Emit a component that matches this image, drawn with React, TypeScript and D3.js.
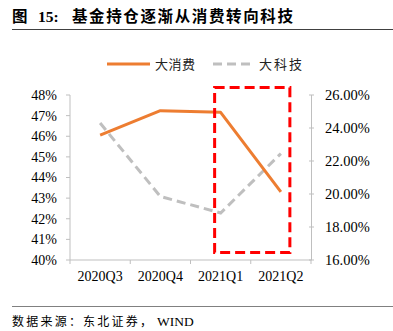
import React from "react";
import * as d3 from "d3";

const categories = ["2020Q3", "2020Q4", "2021Q1", "2021Q2"];
const consumption = [46.05, 47.24, 47.16, 43.3];
const technology = [24.3, 19.85, 18.85, 22.45];
const leftTicks = [40, 41, 42, 43, 44, 45, 46, 47, 48];
const rightTicks = [16, 18, 20, 22, 24, 26];
const titleLabel = "图";
const titleNumber = "15:";
const titleText = "基金持仓逐渐从消费转向科技";
const sourceLabel = "数据来源：东北证券，";
const sourceLatin = "WIND";
const seriesNames = ["大消费", "大科技"];

const W = 393;
const H = 331;
const FONT = "'Liberation Serif', 'Times New Roman', 'Noto Sans CJK SC', serif";
const CJK = "'Noto Sans CJK SC', sans-serif";

export default function App() {
  const x = d3.scaleBand<string>().domain(categories).range([70, 311]);
  const yL = d3.scaleLinear().domain([40, 48]).range([260, 95]);
  const yR = d3.scaleLinear().domain([16, 26]).range([260, 95]);
  const cx = (c: string) => (x(c) as number) + x.bandwidth() / 2;

  const lineL = d3
    .line<number>()
    .x((_, i) => cx(categories[i]))
    .y((d) => yL(d));
  const lineR = d3
    .line<number>()
    .x((_, i) => cx(categories[i]))
    .y((d) => yR(d));

  const axisColor = "#bfbfbf";
  const bounds = [...categories.map((c) => x(c) as number), 311];

  // highlight box around 2021Q1–2021Q2 transition
  const boxX0 = cx(categories[2]) - 6;
  const boxX1 = cx(categories[3]) + 9;
  const boxY0 = yL(48.36);
  const boxY1 = yL(40.36);

  return (
    <svg
      width={W}
      height={H}
      style={{ position: "absolute", left: 0, top: 0, background: "#fff" }}
    >
      <g fontFamily={FONT} fontSize={15.5} fontWeight="bold" fill="#000">
        <text x={12} y={22} fontFamily={CJK}>
          {titleLabel}
        </text>
        <text x={38} y={22}>
          {titleNumber}
        </text>
        <text
          x={72}
          y={22}
          fontFamily={CJK}
          textLength={221}
          lengthAdjust="spacing"
        >
          {titleText}
        </text>
      </g>
      <line x1={12} x2={393} y1={29.5} y2={29.5} stroke="#404040" strokeWidth={1} />

      {/* legend */}
      <line x1={107} x2={150} y1={64} y2={64} stroke="#ED7D31" strokeWidth={3} />
      <text
        x={155}
        y={68.5}
        fontFamily={CJK}
        fontSize={13}
        fill="#222"
        textLength={40}
        lengthAdjust="spacing"
      >
        {seriesNames[0]}
      </text>
      <line
        x1={213}
        x2={251}
        y1={64}
        y2={64}
        stroke="#BFBFBF"
        strokeWidth={3}
        strokeDasharray="9,5"
      />
      <text
        x={259}
        y={68.5}
        fontFamily={CJK}
        fontSize={13}
        fill="#222"
        textLength={43}
        lengthAdjust="spacing"
      >
        {seriesNames[1]}
      </text>

      {/* left axis */}
      <line x1={70} x2={70} y1={95} y2={260} stroke={axisColor} />
      {leftTicks.map((t) => (
        <g key={t}>
          <line x1={66} x2={70} y1={yL(t)} y2={yL(t)} stroke={axisColor} />
          <text
            x={57}
            y={yL(t)}
            dy="0.35em"
            textAnchor="end"
            fontFamily={FONT}
            fontSize={14}
            fill="#000"
          >
            {t}%
          </text>
        </g>
      ))}

      {/* right axis */}
      <line x1={311.5} x2={311.5} y1={95} y2={260} stroke={axisColor} />
      {rightTicks.map((t) => (
        <g key={t}>
          <line x1={309} x2={314} y1={yR(t)} y2={yR(t)} stroke={axisColor} />
          <text
            x={325}
            y={yR(t)}
            dy="0.35em"
            fontFamily={FONT}
            fontSize={14.5}
            fill="#000"
          >
            {t.toFixed(2)}%
          </text>
        </g>
      ))}

      {/* x axis */}
      <line x1={70} x2={311.5} y1={260} y2={260} stroke={axisColor} />
      {bounds.map((b, i) => (
        <line key={i} x1={b} x2={b} y1={260} y2={264} stroke={axisColor} />
      ))}
      {categories.map((c) => (
        <text
          key={c}
          x={cx(c)}
          y={276}
          dy="0.35em"
          textAnchor="middle"
          fontFamily={FONT}
          fontSize={14}
          fill="#000"
        >
          {c}
        </text>
      ))}

      {/* series */}
      <path
        d={lineR(technology) || ""}
        fill="none"
        stroke="#BFBFBF"
        strokeWidth={3}
        strokeDasharray="9,5"
      />
      <path
        d={lineL(consumption) || ""}
        fill="none"
        stroke="#ED7D31"
        strokeWidth={3}
        strokeLinejoin="round"
      />

      {/* red dashed highlight */}
      <rect
        x={boxX0}
        y={boxY0}
        width={boxX1 - boxX0}
        height={boxY1 - boxY0}
        fill="none"
        stroke="#FF0000"
        strokeWidth={3}
        strokeDasharray="10,5"
      />

      {/* source */}
      <line x1={12} x2={393} y1={306.5} y2={306.5} stroke="#808080" strokeWidth={1} />
      <text
        x={12}
        y={326}
        fontFamily={CJK}
        fontSize={12}
        fill="#000"
        textLength={140}
        lengthAdjust="spacing"
      >
        {sourceLabel}
      </text>
      <text x={157} y={326} fontFamily={FONT} fontSize={13.5} fill="#000">
        {sourceLatin}
      </text>
    </svg>
  );
}
